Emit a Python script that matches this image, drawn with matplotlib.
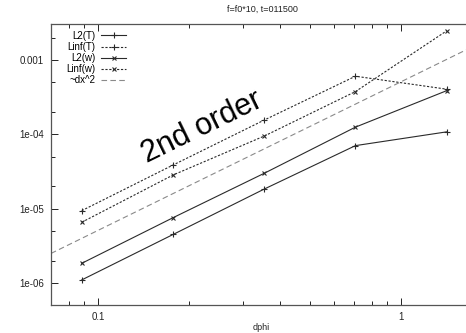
import numpy as np
import matplotlib
matplotlib.use("Agg")
import matplotlib.pyplot as plt
from matplotlib.ticker import LogLocator, FixedLocator, FixedFormatter, NullFormatter

plt.rcParams['font.family'] = ['Liberation Sans', 'DejaVu Sans']

# grid spacing
dphi = [0.0884, 0.177, 0.354, 0.707, 1.414]

# errors
l2_T = [1.1e-6, 4.5e-6, 1.84e-5, 7.05e-5, 1.08e-4]
linf_T = [9.4e-6, 3.87e-5, 1.56e-4, 6.05e-4, 4.05e-4]
l2_w = [1.84e-6, 7.57e-6, 3.0e-5, 1.25e-4, 3.87e-4]
linf_w = [6.56e-6, 2.84e-5, 9.5e-5, 3.76e-4, 2.47e-3]

# reference slope ~dx^2
ref_coef = 5.1e-4
ref_x = [0.07, 1.64]

y_ticks = [1e-6, 1e-5, 1e-4, 1e-3]
y_labels = ["1e-06", "1e-05", "1e-04", "0.001"]
x_ticks = [0.1, 1]
x_labels = ["0.1", "1"]

fig = plt.figure(figsize=(4.66, 3.33), dpi=100)
ax = fig.add_axes([51/466, 28/333, 415/466, 281/333])

dk = '#2a2a2a'
ax.plot(dphi, l2_T, '-', color=dk, lw=0.8, marker='+', ms=4, mew=0.8, label='L2(T)')
ax.plot(dphi, linf_T, color=dk, lw=0.8, ls=(0, (2, 1.5)), marker='+', ms=4, mew=0.8, label='Linf(T)')
ax.plot(dphi, l2_w, '-', color=dk, lw=0.8, marker='x', ms=3.5, mew=0.8, label='L2(w)')
ax.plot(dphi, linf_w, color=dk, lw=0.8, ls=(0, (2, 1.5)), marker='x', ms=3.5, mew=0.8, label='Linf(w)')
rx = np.array(ref_x)
ax.plot(rx, ref_coef * rx**2, color='#8a8a8a', lw=0.8, ls=(0, (5, 3)), label='~dx^2')

ax.set_xscale('log')
ax.set_yscale('log')
ax.set_xlim(0.07, 1.637)
ax.set_ylim(5.06e-7, 3.05e-3)

ax.xaxis.set_major_locator(FixedLocator(x_ticks))
ax.xaxis.set_major_formatter(FixedFormatter(x_labels))
ax.xaxis.set_minor_locator(LogLocator(base=10, subs=np.arange(2, 10)))
ax.xaxis.set_minor_formatter(NullFormatter())
ax.yaxis.set_major_locator(FixedLocator(y_ticks))
ax.yaxis.set_major_formatter(FixedFormatter(y_labels))
ax.yaxis.set_minor_locator(LogLocator(base=10, subs=[2, 5]))
ax.yaxis.set_minor_formatter(NullFormatter())

ax.tick_params(which='both', direction='in', top=True, right=False, labelsize=7, colors='#222', width=0.7, pad=5)
ax.tick_params(which='major', length=5)
ax.tick_params(which='minor', length=3)
for s in ['left', 'bottom', 'top']:
    ax.spines[s].set_linewidth(0.9)
    ax.spines[s].set_color('#555')
ax.spines['right'].set_visible(False)

leg = ax.legend(loc='upper left', bbox_to_anchor=(0.02, 1.0), frameon=False, markerfirst=False,
                fontsize=7, handlelength=2.6, handletextpad=0.6, labelspacing=0.12, borderaxespad=0.3)

# annotation
fig.text(202/466, 1 - 127/333, '2nd order', fontsize=22, rotation=26, ha='center', va='center', color='black')

fig.text(262/466, 1 - 9/333, 'f=f0*10, t=011500', fontsize=6.5, ha='center', va='center', color='#222')
fig.text(261/466, 1 - 327/333, 'dphi', fontsize=6.5, ha='center', va='center', color='#222')

fig.savefig('out.png', dpi=100)
